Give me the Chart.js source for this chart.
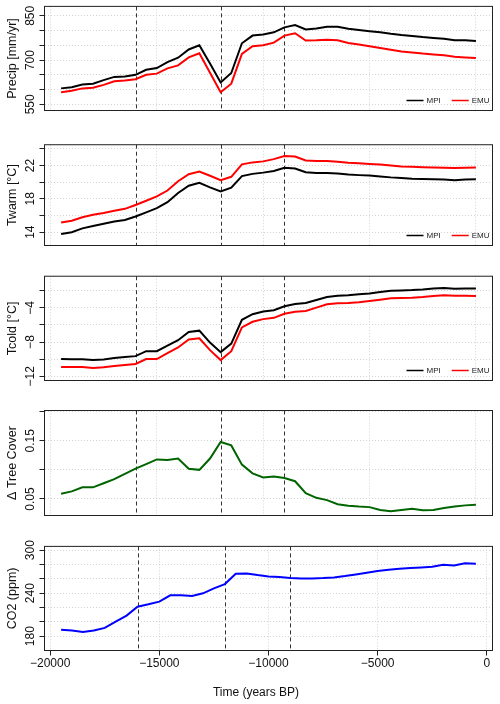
<!DOCTYPE html>
<html>
<head>
<meta charset="utf-8">
<script src="https://cdn.jsdelivr.net/npm/chart.js@4.4.0/dist/chart.umd.min.js"></script>
<style>
  html, body { margin: 0; padding: 0; background: #fff; }
  #wrap { position: relative; width: 500px; height: 704px; }
  canvas { position: absolute; left: 0; }
</style>
</head>
<body>
<div id="wrap">
  <canvas id="precipChart" width="500" height="135" style="top:0px"></canvas>
  <canvas id="twarmChart" width="500" height="135" style="top:135px"></canvas>
  <canvas id="tcoldChart" width="500" height="135" style="top:270px"></canvas>
  <canvas id="treeChart" width="500" height="135" style="top:405px"></canvas>
  <canvas id="co2Chart" width="500" height="164" style="top:540px"></canvas>
</div>
<script>
// time axis (years BP)
const timeClim = [-19500, -19000, -18500, -18000, -17500, -17000, -16500, -16000, -15500, -15000,
  -14500, -14000, -13500, -13000, -12500, -12000, -11500, -11000, -10500, -10000,
  -9500, -9000, -8500, -8000, -7500, -7000, -6500, -6000, -5500, -5000,
  -4500, -4000, -3500, -3000, -2500, -2000, -1500, -1000, -500, 0];
const timeCO2 = timeClim.slice(0, 39);

const precipMPI = [604, 608, 617, 620, 632, 643, 644, 650, 667, 673, 693, 708, 736, 750, 688, 624,
  656, 757, 783, 787, 794, 811, 819, 804, 807, 813, 813, 806, 802, 798, 794, 789, 785, 782, 778, 775, 772, 767, 767, 765];
const precipEMU = [591, 596, 604, 606, 616, 628, 631, 635, 650, 654, 672, 682, 709, 723, 657, 591,
  620, 721, 747, 750, 759, 783, 791, 766, 767, 769, 767, 758, 753, 747, 741, 735, 729, 726, 722, 719, 716, 711, 709, 707];

const twarmMPI = [13.77, 14.0, 14.46, 14.73, 15.0, 15.27, 15.46, 15.88, 16.38, 16.88, 17.6, 18.7, 19.58, 19.92,
  19.38, 18.88, 19.35, 20.73, 21.0, 21.15, 21.35, 21.73, 21.65, 21.19, 21.1, 21.1, 21.04, 20.92, 20.85, 20.8,
  20.69, 20.58, 20.5, 20.42, 20.38, 20.35, 20.31, 20.23, 20.31, 20.35];
const twarmEMU = [15.15, 15.38, 15.8, 16.08, 16.3, 16.58, 16.8, 17.27, 17.77, 18.3, 19.0, 20.12, 20.96, 21.27,
  20.77, 20.23, 20.65, 22.15, 22.38, 22.5, 22.77, 23.15, 23.08, 22.6, 22.54, 22.54, 22.46, 22.35, 22.27, 22.19,
  22.12, 22.0, 21.88, 21.85, 21.8, 21.77, 21.73, 21.7, 21.73, 21.77];

const tcoldMPI = [-9.99, -10.0, -10.0, -10.1, -10.03, -9.88, -9.76, -9.65, -9.07, -9.07, -8.41, -7.79, -6.83, -6.67,
  -8.06, -9.18, -8.18, -5.4, -4.74, -4.43, -4.28, -3.81, -3.54, -3.43, -3.08, -2.73, -2.58, -2.54, -2.42, -2.31,
  -2.15, -2.0, -1.96, -1.92, -1.85, -1.73, -1.69, -1.77, -1.73, -1.73];
const tcoldEMU = [-10.92, -10.92, -10.92, -11.03, -10.96, -10.8, -10.69, -10.57, -9.99, -9.99, -9.3, -8.64, -7.71, -7.56,
  -8.95, -10.11, -9.07, -6.29, -5.63, -5.32, -5.17, -4.7, -4.47, -4.36, -3.97, -3.58, -3.47, -3.43, -3.35, -3.2,
  -3.04, -2.89, -2.85, -2.81, -2.73, -2.62, -2.54, -2.58, -2.58, -2.62];

const treeCover = [0.059, 0.063, 0.070, 0.070, 0.077, 0.084, 0.093, 0.102, 0.110, 0.118, 0.117, 0.1195, 0.102, 0.100,
  0.1195, 0.148, 0.142, 0.109, 0.094, 0.087, 0.0885, 0.086, 0.0805, 0.060, 0.052, 0.048, 0.041, 0.0385, 0.037, 0.036,
  0.031, 0.029, 0.031, 0.033, 0.0305, 0.031, 0.0345, 0.037, 0.039, 0.040];

const co2 = [188.8, 187.9, 186.0, 187.9, 191.6, 200.4, 208.7, 221.2, 224.5, 228.2, 237.0, 237.0, 236.0, 239.8,
  246.7, 252.7, 267.1, 267.6, 265.3, 263.4, 262.5, 261.1, 260.6, 260.6, 261.1, 262.0, 263.9, 266.2, 268.5, 270.8,
  272.7, 274.0, 275.0, 275.9, 276.8, 279.6, 278.7, 281.9, 281.0];

// tick values
const xTicks = [-20000, -15000, -10000, -5000, 0];
const events = [-16000, -12000, -9000];
const precipTicks = [550, 600, 650, 700, 750, 800, 850];
const precipLabels = [550, 700, 850];
const twarmTicks = [14, 16, 18, 20, 22, 24];
const twarmLabels = [14, 18, 22];
const tcoldTicks = [-12, -10, -8, -6, -4, -2];
const tcoldLabels = [-12, -8, -4];
const treeTicks = [0.05, 0.10, 0.15, 0.20];
const treeLabels = [0.05, 0.15];
const co2Ticks = [180, 200, 220, 240, 260, 280, 300];
const co2Labels = [180, 240, 300];

const FONT = "'Liberation Sans', Arial, sans-serif";
Chart.defaults.font.family = FONT;
Chart.defaults.font.size = 12;
Chart.defaults.color = '#111';

const fmt = v => (v < 0 ? '\u2212' + Math.abs(v) : String(v));

const mctx = document.createElement('canvas').getContext('2d');
mctx.font = '12px ' + FONT;
// keep the rotated y labels centred at the same distance from the axis
const labelPad = labels => 9.2 - Math.max(...labels.map(v => mctx.measureText(fmt(v)).width)) / 2;

const frame = {
  id: 'frame',
  beforeDatasetsDraw(chart) {
    const {ctx, chartArea: a, scales: {x}} = chart;
    ctx.save();
    ctx.strokeStyle = '#333';
    ctx.lineWidth = 1;
    ctx.setLineDash([4, 3]);
    events.forEach(v => {
      const px = Math.round(x.getPixelForValue(v)) + 0.5;
      ctx.beginPath();
      ctx.moveTo(px, a.top);
      ctx.lineTo(px, a.bottom);
      ctx.stroke();
    });
    ctx.restore();
  },
  afterDraw(chart, args, opts) {
    const {ctx, chartArea: a} = chart;
    ctx.save();
    ctx.strokeStyle = '#222';
    ctx.lineWidth = 1;
    ctx.strokeRect(a.left, a.top, a.right - a.left, a.bottom - a.top);

    if (opts.legend) {
      ctx.font = '8px ' + FONT;
      ctx.textBaseline = 'middle';
      ctx.textAlign = 'left';
      const y = a.bottom - 10;
      let xr = a.right - 3;
      chart.data.datasets.slice().reverse().forEach(ds => {
        const tw = ctx.measureText(ds.label).width;
        ctx.fillStyle = '#222';
        ctx.fillText(ds.label, xr - tw, y);
        ctx.strokeStyle = ds.borderColor;
        ctx.lineWidth = 1.5;
        ctx.beginPath();
        ctx.moveTo(xr - tw - 20, y);
        ctx.lineTo(xr - tw - 3, y);
        ctx.stroke();
        xr = xr - tw - 31;
      });
    }
    if (opts.xTitle) {
      ctx.font = '12px ' + FONT;
      ctx.fillStyle = '#111';
      ctx.textAlign = 'center';
      ctx.textBaseline = 'middle';
      ctx.fillText(opts.xTitle, 256, a.bottom + 42.5);
    }
    ctx.restore();
  }
};

function makePanel(id, p) {
  const bottom = !!p.xTitle;
  const gridOpts = {color: '#d3d3d3', lineWidth: 1, tickLength: 5, tickColor: '#222', tickBorderDash: []};
  return new Chart(document.getElementById(id), {
    type: 'line',
    data: {
      datasets: p.series.map(s => ({
        label: s.label,
        data: p.time.map((t, i) => ({x: t, y: s.values[i]})),
        borderColor: s.color,
        borderWidth: 2,
        pointRadius: 0,
        tension: 0,
        fill: false
      }))
    },
    options: {
      responsive: false,
      animation: false,
      layout: {padding: {top: 5.5, right: 7.5, bottom: bottom ? 0 : 24.5, left: 0}},
      plugins: {
        legend: {display: false},
        tooltip: {enabled: false},
        frame: {legend: p.legend, xTitle: p.xTitle}
      },
      scales: {
        x: {
          type: 'linear',
          min: p.xMin,
          max: p.xMax,
          afterBuildTicks: s => { s.ticks = xTicks.map(v => ({value: v})); },
          afterFit: s => { s.height = bottom ? 53.5 : 0; },
          grid: Object.assign({drawTicks: bottom}, gridOpts),
          border: {display: false, dash: [1, 2]},
          ticks: {display: bottom, padding: 1, maxRotation: 0, autoSkip: false, callback: v => fmt(v)}
        },
        y: {
          min: p.yMin,
          max: p.yMax,
          afterBuildTicks: s => { s.ticks = p.yTicks.map(v => ({value: v})); },
          afterFit: s => { s.width = 44.5; },
          grid: Object.assign({drawTicks: true}, gridOpts),
          border: {display: false, dash: [1, 2]},
          ticks: {
            minRotation: 90,
            crossAlign: 'center',
            padding: labelPad(p.yLabels),
            autoSkip: false,
            callback: v => (p.yLabels.includes(v) ? fmt(v) : '')
          },
          title: {display: true, text: p.title, font: {size: 12.5}, padding: {top: 5, bottom: 0}}
        }
      }
    },
    plugins: [frame]
  });
}

const models = (a, b) => [
  {label: 'MPI', values: a, color: '#000000'},
  {label: 'EMU', values: b, color: '#ff0000'}
];

makePanel('precipChart', {
  time: timeClim, xMin: -20280, xMax: 780, series: models(precipMPI, precipEMU), legend: true,
  yMin: 529, yMax: 882, yTicks: precipTicks, yLabels: precipLabels, title: 'Precip [mm/yr]'
});
makePanel('twarmChart', {
  time: timeClim, xMin: -20280, xMax: 780, series: models(twarmMPI, twarmEMU), legend: true,
  yMin: 12.4, yMax: 24.5, yTicks: twarmTicks, yLabels: twarmLabels, title: 'Twarm [°C]'
});
makePanel('tcoldChart', {
  time: timeClim, xMin: -20280, xMax: 780, series: models(tcoldMPI, tcoldEMU), legend: true,
  yMin: -12.5, yMax: -0.3, yTicks: tcoldTicks, yLabels: tcoldLabels, title: 'Tcold [°C]'
});
makePanel('treeChart', {
  time: timeClim, xMin: -20280, xMax: 780,
  series: [{label: 'Tree cover', values: treeCover, color: '#006400'}],
  yMin: 0.0216, yMax: 0.202, yTicks: treeTicks, yLabels: treeLabels, title: '\u0394 Tree Cover'
});
makePanel('co2Chart', {
  time: timeCO2, xMin: -20260, xMax: 260,
  series: [{label: 'CO2', values: co2, color: '#0000ff'}],
  yMin: 160, yMax: 305.3, yTicks: co2Ticks, yLabels: co2Labels, title: 'CO2 (ppm)',
  xTitle: 'Time (years BP)'
});
</script>
</body>
</html>
